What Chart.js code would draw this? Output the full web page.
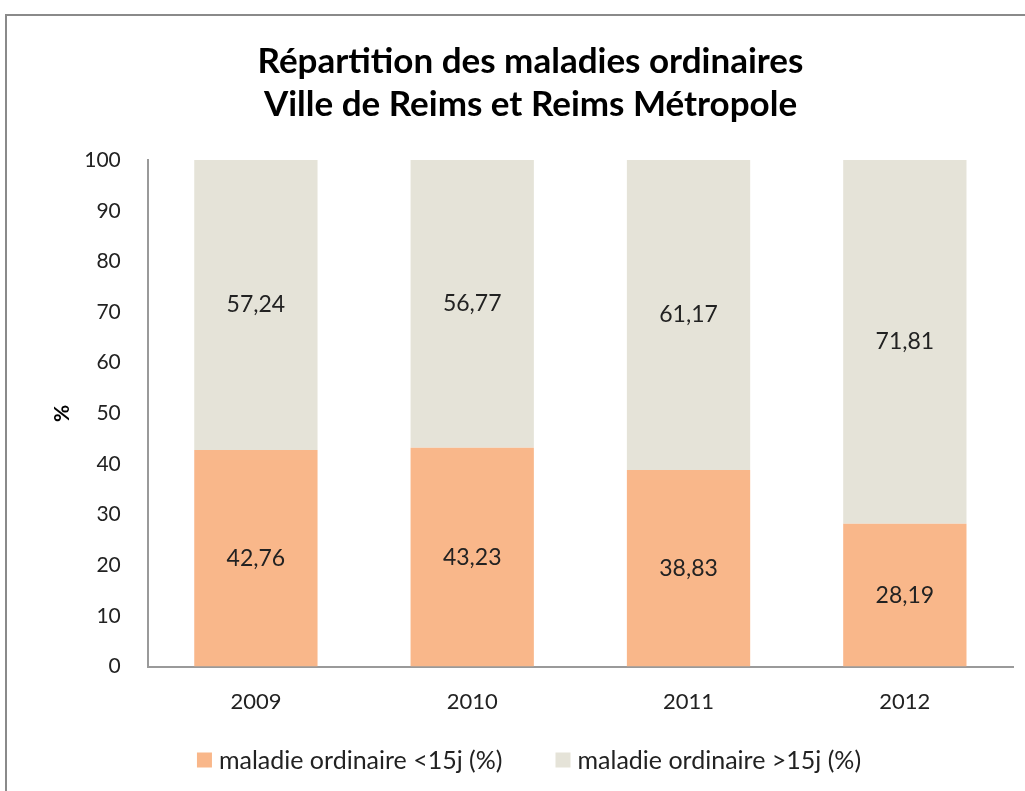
<!DOCTYPE html>
<html>
<head>
<meta charset="utf-8">
<script src="https://cdn.jsdelivr.net/npm/chart.js@4.4.0/dist/chart.umd.min.js"></script>
<style>
    html, body { margin: 0; padding: 0; background: #fff; }
    #cadre {
        position: absolute; left: 5px; top: 14px;
        width: 1020px; height: 777px;
        border-top: 2px solid #8a8a8a; border-left: 2px solid #8a8a8a;
        box-sizing: border-box;
    }
    #graphique { display: block; }
</style>
</head>
<body>
<div id="cadre"><canvas id="graphique" width="1018" height="775"></canvas></div>
<script>
// Données
const annees = ['2009', '2010', '2011', '2012'];
const moinsDe15j = [42.76, 43.23, 38.83, 28.19];
const plusDe15j = [57.24, 56.77, 61.17, 71.81];
const titre = ['Répartition des maladies ordinaires', 'Ville de Reims et Reims Métropole'];

const couleurs = {
    orange: '#f9b78a',
    gris: '#e5e3d8',
    axe: '#9a9a9a',
    texte: '#222'
};

const police = 'Lato, "Open Sans", sans-serif';

// Étiquettes de valeurs au centre de chaque segment
const etiquettesPlugin = {
    id: 'etiquettes',
    afterDatasetsDraw(chart) {
        const ctx = chart.ctx;
        ctx.save();
        ctx.font = '23px ' + police;
        ctx.fillStyle = couleurs.texte;
        ctx.textAlign = 'center';
        ctx.textBaseline = 'middle';
        chart.data.datasets.forEach((ds, i) => {
            chart.getDatasetMeta(i).data.forEach((bar, j) => {
                const y = (bar.y + bar.base) / 2;
                ctx.fillText(ds.data[j].toFixed(2).replace('.', ','), bar.x, y);
            });
        });
        ctx.restore();
    }
};

// Légende maison : les écarts de la légende Excel ne sont pas réglables dans celle de Chart.js
const legendePlugin = {
    id: 'legende',
    afterDraw(chart) {
        const ctx = chart.ctx;
        const carre = 15, ecartTexte = 7, ecartItems = 53;
        const y = chart.height - 31;
        ctx.save();
        ctx.font = '25px ' + police;
        ctx.textBaseline = 'middle';
        ctx.textAlign = 'left';
        const items = chart.data.datasets.map(ds => ({
            texte: ds.label,
            couleur: ds.backgroundColor,
            largeur: carre + ecartTexte + ctx.measureText(ds.label).width
        }));
        const total = items.reduce((s, it) => s + it.largeur, 0) + ecartItems * (items.length - 1);
        let x = chart.width / 2 + 13 - total / 2;
        items.forEach(it => {
            ctx.fillStyle = it.couleur;
            ctx.fillRect(x, y - carre / 2, carre, carre);
            ctx.fillStyle = couleurs.texte;
            ctx.fillText(it.texte, x + carre + ecartTexte, y + 1);
            x += it.largeur + ecartItems;
        });
        ctx.restore();
    }
};

new Chart(document.getElementById('graphique'), {
    type: 'bar',
    data: {
        labels: annees,
        datasets: [
            { label: 'maladie ordinaire <15j (%)', data: moinsDe15j, backgroundColor: couleurs.orange },
            { label: 'maladie ordinaire >15j (%)', data: plusDe15j, backgroundColor: couleurs.gris }
        ]
    },
    options: {
        responsive: false,
        animation: false,
        layout: { padding: { left: 41, right: 12, top: 8, bottom: 62 } },
        datasets: { bar: { categoryPercentage: 1, barPercentage: 0.57 } },
        plugins: {
            title: {
                display: true,
                text: titre,
                color: '#000',
                font: { family: police, size: 35, weight: 'bold', lineHeight: 1.23 },
                padding: { top: 16, bottom: 34 }
            },
            legend: { display: false },
            tooltip: { enabled: false }
        },
        scales: {
            x: {
                stacked: true,
                grid: { display: false },
                border: { color: couleurs.axe, width: 2 },
                ticks: { color: couleurs.texte, font: { family: police, size: 22 }, padding: 14 }
            },
            y: {
                stacked: true,
                min: 0, max: 100,
                grid: { display: false },
                border: { color: couleurs.axe, width: 2 },
                ticks: { stepSize: 10, color: couleurs.texte, font: { family: police, size: 21 }, padding: 19 },
                title: {
                    display: true, text: '%', color: '#000',
                    font: { family: police, size: 21, weight: 'bold' },
                    padding: { top: 2, bottom: -10 }
                }
            }
        }
    },
    plugins: [etiquettesPlugin, legendePlugin]
});
</script>
</body>
</html>
